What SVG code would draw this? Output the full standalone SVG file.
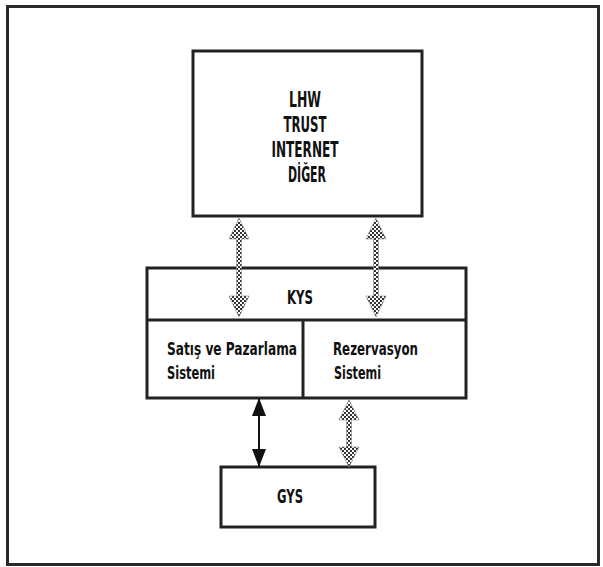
<svg xmlns="http://www.w3.org/2000/svg" width="603" height="567" viewBox="0 0 603 567">
<defs>
<pattern id="dots" x="0" y="0" width="4" height="4" patternUnits="userSpaceOnUse">
<rect width="4" height="4" fill="#ffffff"/>
<rect x="0" y="0" width="2" height="2" fill="#333333"/>
<rect x="2" y="2" width="2" height="2" fill="#333333"/>
</pattern>
<marker id="ah" viewBox="0 0 18 14" refX="17" refY="7" markerWidth="18" markerHeight="14" markerUnits="userSpaceOnUse" orient="auto-start-reverse">
<path d="M0,0 L18,7 L0,14 Z" fill="#111"/>
</marker>
</defs>
<style>
.box{fill:none;stroke:#222;stroke-width:3}
.t{font-family:"DejaVu Sans Condensed","DejaVu Sans",sans-serif;font-weight:bold;fill:#111}
.big{font-size:21px;text-anchor:middle}
.mid{font-size:18px}
.dot{fill:url(#dots);stroke:#8a8a8a;stroke-width:0.6}
</style>
<rect width="603" height="567" fill="#ffffff"/>
<rect x="7.5" y="6.5" width="591" height="558" fill="none" stroke="#2a2a2a" stroke-width="3"/>

<g id="top">
<rect class="box" x="193" y="51" width="229" height="165"/>
<text class="t big" x="305" y="107" textLength="32" lengthAdjust="spacingAndGlyphs">LHW</text>
<text class="t big" x="305" y="132" textLength="43" lengthAdjust="spacingAndGlyphs">TRUST</text>
<text class="t big" x="305" y="157" textLength="67" lengthAdjust="spacingAndGlyphs">INTERNET</text>
<text class="t big" x="307" y="182" textLength="38" lengthAdjust="spacingAndGlyphs">DİĞER</text>
</g>

<g id="kys">
<rect class="box" x="147" y="268" width="319" height="130"/>
<line class="box" x1="147" y1="320" x2="466" y2="320"/>
<line class="box" x1="303" y1="320" x2="303" y2="398"/>
<text class="t big" x="300" y="304" textLength="26" lengthAdjust="spacingAndGlyphs" style="font-size:20px">KYS</text>
</g>

<g id="satis">
<text class="t mid" x="167" y="355" textLength="130" lengthAdjust="spacingAndGlyphs">Satış ve Pazarlama</text>
<text class="t mid" x="167" y="379" textLength="48" lengthAdjust="spacingAndGlyphs">Sistemi</text>
</g>

<g id="rezervasyon">
<text class="t mid" x="333" y="355" textLength="85" lengthAdjust="spacingAndGlyphs">Rezervasyon</text>
<text class="t mid" x="334" y="379" textLength="47" lengthAdjust="spacingAndGlyphs">Sistemi</text>
</g>

<g id="gys">
<rect class="box" x="221" y="467" width="154" height="60"/>
<text class="t big" x="290" y="503" textLength="26" lengthAdjust="spacingAndGlyphs" style="font-size:20px">GYS</text>
</g>

<g id="connectors">
<polygon class="dot" points="239,218 249,239 241.5,239 241.5,296 249,296 239,317 229,296 236.5,296 236.5,239 229,239"/>
<polygon class="dot" points="376,218 386,239 378.5,239 378.5,296 386,296 376,317 366,296 373.5,296 373.5,239 366,239"/>
<polygon class="dot" points="349,400 359,420 351.5,420 351.5,447 359,447 349,467 339,447 346.5,447 346.5,420 339,420"/>
<line x1="259" y1="399" x2="259" y2="466" stroke="#111" stroke-width="2" marker-start="url(#ah)" marker-end="url(#ah)"/>
</g>
</svg>
